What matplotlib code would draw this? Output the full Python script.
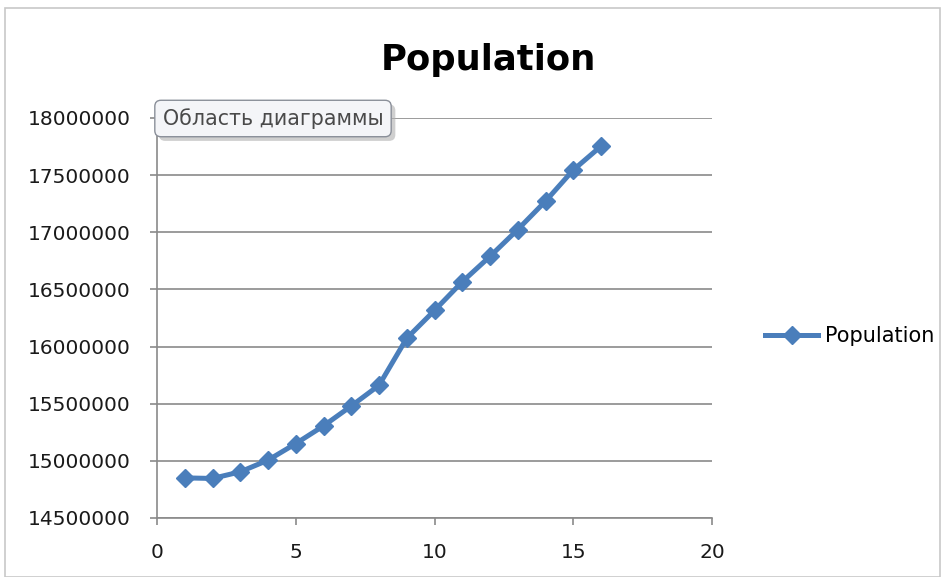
import matplotlib.pyplot as plt
import matplotlib.patheffects as pe
from matplotlib.patches import Rectangle

# Data
years = list(range(1, 17))
population = [14851000, 14846000, 14904000, 15006000, 15151000, 15306000,
              15480000, 15661000, 16073000, 16316000, 16567000, 16789000,
              17024000, 17272000, 17545000, 17753000]
y_ticks = [14500000, 15000000, 15500000, 16000000, 16500000, 17000000,
           17500000, 18000000]
x_ticks = [0, 5, 10, 15, 20]

plt.rcParams['font.family'] = ['DejaVu Sans']

fig = plt.figure(figsize=(9.42, 5.77), dpi=100)
ax = fig.add_axes([157 / 942, 1 - 518 / 577, (712 - 157) / 942, (518 - 118) / 577])

# chart area border
fig.patches.append(Rectangle((5 / 942, 0), 935 / 942, 1 - 8 / 577,
                             transform=fig.transFigure, fill=False,
                             edgecolor='#c8c8c8', linewidth=1.2))

ax.plot(years, population, color='#4a7ebb', linewidth=3.6, marker='D',
        markersize=9.5, label='Population', zorder=3)

ax.set_xlim(0, 20)
ax.set_ylim(14500000, 18000000)
ax.set_xticks(x_ticks)
ax.set_yticks(y_ticks)
ax.set_yticklabels([str(v) for v in y_ticks])
ax.grid(axis='y', color='#8a8a8a', linewidth=1.2)
ax.set_axisbelow(True)

for side in ['top', 'right']:
    ax.spines[side].set_visible(False)
for side in ['left', 'bottom']:
    ax.spines[side].set_color('#8a8a8a')
    ax.spines[side].set_linewidth(1.2)
ax.tick_params(axis='both', direction='out', length=5, width=1.2,
               color='#8a8a8a', labelsize=14.5, labelcolor='#1a1a1a')
ax.tick_params(axis='y', pad=14)
ax.tick_params(axis='x', pad=13)

fig.text(488 / 942, 1 - 60 / 577, 'Population', ha='center', va='center',
         fontsize=25.5, fontweight='bold', color='black')

ax.legend(loc='center left', frameon=False, fontsize=15,
          handlelength=2.55, handletextpad=0.34, borderaxespad=0)
ax.get_legend().set_bbox_to_anchor((1.081, 0.455), transform=ax.transAxes)

# tooltip box from the screenshot, with a soft shadow
tip = fig.text(273 / 942, 1 - 118.5 / 577, 'Область диаграммы', ha='center',
               va='center', fontsize=14.8, color='#4a4a4a',
               bbox=dict(boxstyle='round,pad=0.38,rounding_size=0.3',
                         facecolor='#f4f5f8', edgecolor='#8a8f99', linewidth=1))
tip.get_bbox_patch().set_path_effects([
    pe.SimplePatchShadow(offset=(3, -3), shadow_rgbFace='#b0b0b0', alpha=0.6),
    pe.Normal()])

plt.savefig('out.png', dpi=100)
